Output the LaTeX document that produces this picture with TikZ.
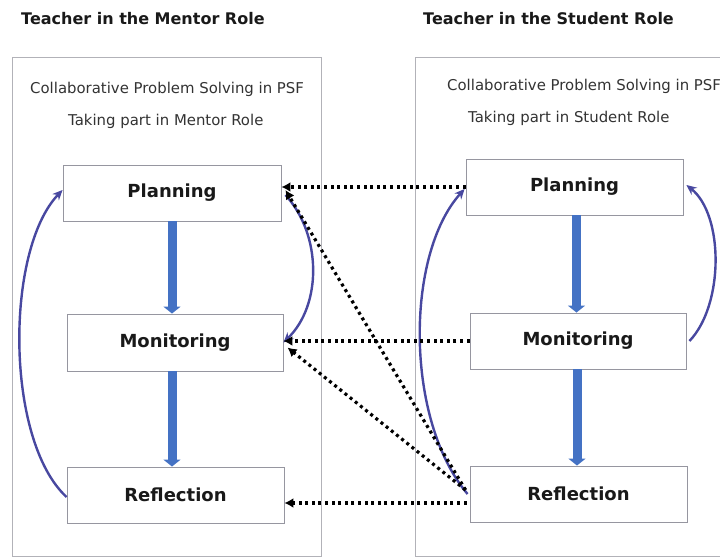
\documentclass[tikz,border=0pt]{standalone}
\usepackage{fontspec}
\setmainfont{DejaVu Sans}
\usetikzlibrary{arrows.meta}
\definecolor{blockblue}{RGB}{68,114,196}
\definecolor{curveblue}{RGB}{72,72,160}
\definecolor{outergray}{RGB}{178,178,184}
\definecolor{innergray}{RGB}{150,150,160}
\tikzset{
  titletext/.style={anchor=base west, inner sep=0pt, font=\bfseries\fontsize{16}{18}\selectfont, text=black!90},
  subtext/.style={anchor=base west, inner sep=0pt, font=\fontsize{14.9}{17}\selectfont, text=black!80},
  stagebox/.style={draw=innergray, line width=0.9pt, fill=white, inner sep=0pt, font=\bfseries\fontsize{18}{20}\selectfont, text=black!90},
  blockarrow/.style={draw=blockblue, line width=9pt, -{Triangle[length=7pt,width=17pt]}},
  curvearrow/.style={draw=curveblue, line width=2.4pt, -{Stealth[length=10pt,width=9pt]}},
  dotarrow/.style={draw=black, line width=3.2pt, dash pattern=on 3pt off 3.6pt, -{Latex[length=9pt,width=10pt]}}
}
\begin{document}
\begin{tikzpicture}[x=1pt,y=-1pt]
\useasboundingbox[fill=white] (0,0) rectangle (720,557);
% outer frames
\draw[draw=outergray, line width=0.9pt] (12,57) rectangle (321,556);
\draw[draw=outergray, line width=0.9pt] (722,57) -- (415,57) -- (415,556) -- (722,556);
\coordinate (lframe) at (12,57);
\coordinate (rframe) at (415,57);
% titles
\node[titletext] (ltitle) at (21,24) {Teacher in the Mentor Role};
\node[titletext] (rtitle) at (423,24) {Teacher in the Student Role};
% subtitles
\node[subtext] (lsub1) at (30,93) {Collaborative Problem Solving in PSF};
\node[subtext] (lsub2) at (68,125) {Taking part in Mentor Role};
\node[subtext] (rsub1) at (447,90) {Collaborative Problem Solving in PSF};
\node[subtext] (rsub2) at (468,122) {Taking part in Student Role};
% stage boxes
\node[stagebox, minimum width=218pt, minimum height=56pt] (lp) at (172,193) {Planning};
\node[stagebox, minimum width=216pt, minimum height=57pt] (lm) at (175,342.5) {Monitoring};
\node[stagebox, minimum width=217pt, minimum height=56pt] (lr) at (175.5,495) {Reflection};
\node[stagebox, minimum width=217pt, minimum height=56pt] (rp) at (574.5,187) {Planning};
\node[stagebox, minimum width=216pt, minimum height=56pt] (rm) at (578,341) {Monitoring};
\node[stagebox, minimum width=217pt, minimum height=56pt] (rr) at (578.5,494) {Reflection};
% block arrows
\draw[blockarrow] (lp.south) -- (lp.south |- lm.north);
\draw[blockarrow] (lm.south -| lp.south) -- (lp.south |- lr.north);
\draw[blockarrow] ([xshift=2pt]rp.south) -- ([xshift=2pt]rp.south |- rm.north);
\draw[blockarrow] ([xshift=-1pt]rm.south) -- ([xshift=-1pt]rm.south |- rr.north);
% curved arrows
\draw[curvearrow] ([yshift=-2pt]lr.west) .. controls (5,440) and (5,250) .. ([yshift=3pt]lp.west);
\draw[curvearrow] ([xshift=4pt,yshift=-2pt]lp.east) .. controls (322,235) and (322,305) .. (lm.east);
\draw[curvearrow] ([xshift=-2pt]rr.west) .. controls (405,420) and (405,255) .. ([xshift=-1pt,yshift=-2pt]rp.west);
\draw[curvearrow] ([xshift=3pt]rm.east) .. controls (724,305) and (724,215) .. ([xshift=3pt,yshift=2pt]rp.east);
% dotted arrows
\draw[dotarrow] (rp.west) -- (rp.west -| lp.east);
\draw[dotarrow] (rm.west) -- (rm.west -| lm.east);
\draw[dotarrow] ([xshift=-3pt,yshift=-9pt]rr.west) -- ([yshift=-9pt]rr.west -| lr.east);
\draw[dotarrow] ([xshift=-4pt,yshift=4pt]rr.west) -- ([xshift=4pt,yshift=3pt]lp.east);
\draw[dotarrow] ([xshift=-4pt,yshift=4pt]rr.west) -- ([xshift=4pt,yshift=-5pt]lm.east);
\end{tikzpicture}
\end{document}
